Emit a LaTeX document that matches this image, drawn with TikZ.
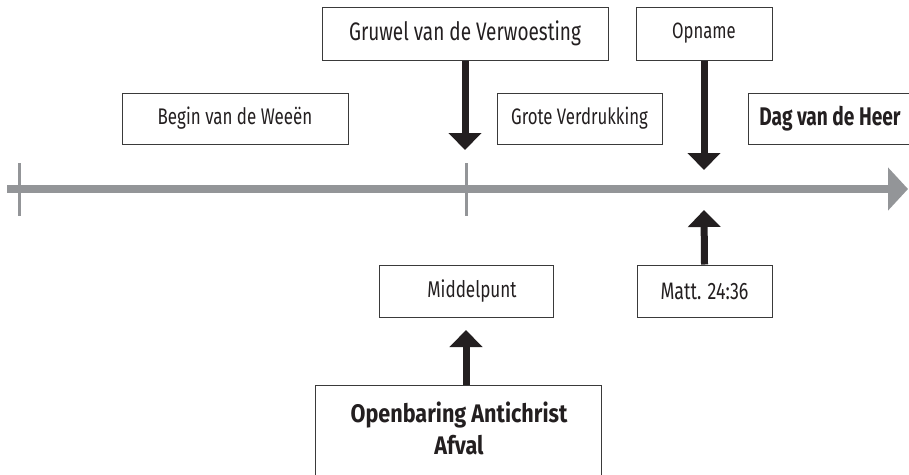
\documentclass[tikz,border=0pt]{standalone}
\usepackage{fontspec}
\setmainfont[FakeStretch=0.75]{Fira Sans}
\newfontfamily\widerfira[FakeStretch=0.85]{Fira Sans}
\usetikzlibrary{arrows.meta}
\definecolor{axisgray}{HTML}{939598}
\definecolor{inkc}{HTML}{231F20}
\definecolor{framec}{HTML}{3A3A3A}
\tikzset{
  box/.style={draw=framec, line width=1pt, rectangle, inner sep=0pt, text=inkc, fill=white},
  boxtext/.style={inner sep=0pt, text=inkc},
  bigarrow/.style={draw=inkc, line width=7pt, -{Triangle[width=32pt,length=17pt]}},
  axisline/.style={draw=axisgray, line width=8pt, -{Triangle[width=42pt,length=20pt]}},
  tickline/.style={draw=axisgray, line width=3pt},
}
\begin{document}
\begin{tikzpicture}[x=1pt,y=-1pt]
\useasboundingbox (0,0) rectangle (909,474);
\clip (0,0) rectangle (909,474);
% timeline
\coordinate (tl0) at (7,189);
\coordinate (tl1) at (908,189);
\draw[axisline] (tl0) -- (tl1);
\coordinate (t1a) at (19,163);
\coordinate (t1b) at (19,216);
\coordinate (t2a) at (466,163);
\coordinate (t2b) at (466,216);
\draw[tickline] (t1a) -- (t1b);
\draw[tickline] (t2a) -- (t2b);
% boxes
\node[box, minimum width=226, minimum height=51, font=\fontsize{22.6}{26}\selectfont] (weeen) at (235,118.5) {Begin van de Weeën};
\node[box, minimum width=286, minimum height=53, font=\fontsize{25.3}{29}\selectfont] (gruwel) at (465,33.5) {Gruwel van de Verwoesting};
\node[box, minimum width=165, minimum height=51, font=\fontsize{22.4}{26}\selectfont] (grote) at (579.5,118.5) {Grote Verdrukking};
\node[box, minimum width=136, minimum height=53, font=\fontsize{22.2}{26}\selectfont] (opname) at (704,33.5) {Opname};
\node[box, minimum width=164, minimum height=51, font=\bfseries\fontsize{25.5}{30}\selectfont] (dag) at (830,118.5) {Dag van de Heer};
\node[box, minimum width=174, minimum height=52, font=\fontsize{22.8}{26}\selectfont] (middel) at (466,291) {\hspace*{12pt}Middelpunt};
\node[box, minimum width=135, minimum height=52, font=\fontsize{23.8}{27}\selectfont] (matt) at (704.5,291) {Matt. 24:36};
\node[box, anchor=north, minimum width=286, minimum height=120] (openb) at (458,385) {};
\node[boxtext, anchor=north, font=\widerfira\bfseries\fontsize{25.4}{32}\selectfont] (openbtxt) at (459,400)
  {\begin{tabular}{@{}c@{}}Openbaring Antichrist\\Afval\end{tabular}};
% arrows
\coordinate (g1) at (465,150);
\coordinate (o1) at (704,170);
\coordinate (m1) at (704,210);
\coordinate (mp1) at (466,330);
\draw[bigarrow] (gruwel.south) -- (g1);
\draw[bigarrow] (opname.south) -- (o1);
\draw[bigarrow] (matt.north) -- (m1);
\draw[bigarrow] (middel.south |- openb.north) -- (mp1);
\end{tikzpicture}
\end{document}
